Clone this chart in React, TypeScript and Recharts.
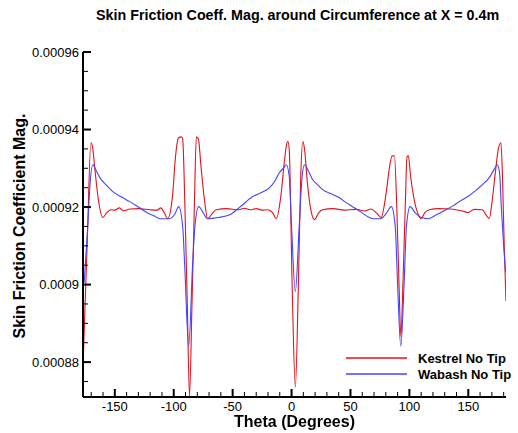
import { LineChart, Line, XAxis, YAxis } from "recharts";

// Kestrel No Tip (red)
const kestrelTheta = [
  -176.9, -173.5, -170.3, -168.9, -167, -164, -160.2, -157, -153, -150, -146, -143, -137, -130, -120,
  -114, -111, -108, -105.1, -101, -98.5, -96, -93.5, -92.4, -90.5, -88.5, -86.6, -84.5, -82.5, -80.8,
  -79, -77, -74, -71.2, -67, -63.8, -55, -45, -40, -35, -30, -25, -20.3, -16, -13, -9, -6, -4, -3.1,
  -2, 0.5, 3.2, 5.8, 7.8, 9.6, 11, 13.5, 16.5, 19.5, 23, 26.3, 35, 45, 55, 62, 67.5, 72, 76, 80, 83,
  85.3, 87.3, 89.3, 91.2, 92.8, 94.5, 96.5, 98, 99.2, 101, 104, 107, 109.9, 113, 117, 125, 135, 145,
  150, 155, 161.9, 165, 167.8, 170, 173, 175.5, 177.7, 179, 180.5, 182,
];
const kestrelValue = [
  88.0e-5, 91.0e-5, 93.66e-5, 93.55e-5, 93.0e-5, 92.2e-5, 91.73e-5, 91.85e-5, 91.93e-5, 91.92e-5, 91.98e-5,
  91.9e-5, 91.95e-5, 91.96e-5, 91.93e-5, 91.92e-5, 91.98e-5, 91.85e-5, 91.7e-5, 92.3e-5, 93.3e-5,
  93.78e-5, 93.81e-5, 93.75e-5, 92.0e-5, 89.5e-5, 87.12e-5, 89.5e-5, 92.0e-5, 93.81e-5, 93.75e-5,
  93.1e-5, 92.2e-5, 91.7e-5, 91.85e-5, 91.93e-5, 91.96e-5, 91.93e-5, 91.97e-5, 91.93e-5, 91.96e-5,
  91.92e-5, 91.93e-5, 91.85e-5, 91.7e-5, 92.3e-5, 93.2e-5, 93.65e-5, 93.69e-5, 93.5e-5, 90.0e-5,
  87.35e-5, 90.0e-5, 92.8e-5, 93.69e-5, 93.5e-5, 92.6e-5, 91.9e-5, 91.68e-5, 91.85e-5, 91.93e-5,
  91.96e-5, 91.92e-5, 91.94e-5, 91.9e-5, 91.95e-5, 91.85e-5, 91.73e-5, 92.3e-5, 93.0e-5, 93.32e-5,
  93.32e-5, 92.0e-5, 90.0e-5, 88.66e-5, 90.0e-5, 92.0e-5, 93.3e-5, 93.32e-5, 92.8e-5, 92.2e-5,
  91.85e-5, 91.7e-5, 91.85e-5, 91.93e-5, 91.96e-5, 91.95e-5, 91.9e-5, 91.86e-5, 91.94e-5, 91.93e-5,
  91.8e-5, 91.7e-5, 92.1e-5, 92.9e-5, 93.5e-5, 93.66e-5, 92.8e-5, 91.0e-5, 89.57e-5,
];

// Wabash No Tip (blue)
const wabashTheta = [
  -176, -173, -171, -168.6, -166, -162.7, -157, -151.7, -145, -137.3, -130, -122.9, -116, -111.9, -103.4,
  -99, -95.8, -92.4, -90.7, -87.3, -84, -82, -78.8, -75, -71.2, -62, -52.5, -43, -33, -25, -18.6, -14,
  -10.2, -7, -4.5, -2, 0, 3.2, 6.5, 9, 11, 14, 17.8, 22, 26.3, 33, 40.7, 46, 51.7, 59, 66.1, 69.5, 75.4,
  80, 84.7, 88, 90, 92.7, 95.5, 97.5, 100.6, 105, 110.2, 116.1, 123, 131.1, 137, 142.4, 150, 156.5,
  162, 167.8, 171, 174.6, 176.5, 178, 180, 181.7,
];
const wabashValue = [
  90.05e-5, 91.5e-5, 92.6e-5, 93.09e-5, 92.95e-5, 92.76e-5, 92.56e-5, 92.4e-5, 92.27e-5, 92.14e-5,
  92.0e-5, 91.86e-5, 91.76e-5, 91.7e-5, 91.7e-5, 91.82e-5, 92.01e-5, 91.5e-5, 90.5e-5, 88.41e-5,
  90.5e-5, 91.5e-5, 92.01e-5, 91.85e-5, 91.7e-5, 91.73e-5, 91.8e-5, 92.02e-5, 92.27e-5, 92.38e-5,
  92.5e-5, 92.68e-5, 92.89e-5, 93.0e-5, 93.09e-5, 92.8e-5, 91.5e-5, 89.82e-5, 91.5e-5, 92.8e-5,
  93.09e-5, 92.95e-5, 92.71e-5, 92.58e-5, 92.45e-5, 92.35e-5, 92.24e-5, 92.12e-5, 92.01e-5, 91.87e-5,
  91.73e-5, 91.7e-5, 91.7e-5, 91.82e-5, 92.01e-5, 91.5e-5, 90.0e-5, 88.41e-5, 90.0e-5, 91.5e-5,
  92.01e-5, 91.85e-5, 91.73e-5, 91.7e-5, 91.8e-5, 91.93e-5, 92.03e-5, 92.14e-5, 92.28e-5, 92.43e-5,
  92.58e-5, 92.76e-5, 92.92e-5, 93.09e-5, 92.9e-5, 92.0e-5, 91.0e-5, 90.31e-5,
];

const kestrelData = kestrelTheta.map((theta, i) => ({ theta, value: kestrelValue[i] }));
const wabashData = wabashTheta.map((theta, i) => ({ theta, value: wabashValue[i] }));

const xMajor = [-150, -100, -50, 0, 50, 100, 150];
const xTicks = [
  -170, -160, -150, -140, -130, -120, -110, -100, -90, -80, -70, -60, -50, -40, -30, -20, -10, 0, 10, 20,
  30, 40, 50, 60, 70, 80, 90, 100, 110, 120, 130, 140, 150, 160, 170, 180,
];
const yMajor = [0.00088, 0.0009, 0.00092, 0.00094, 0.00096];
const yMajorLabels = ["0.00088", "0.0009", "0.00092", "0.00094", "0.00096"];
const yTicks = [
  0.000875, 0.00088, 0.000885, 0.00089, 0.000895, 0.0009, 0.000905, 0.00091, 0.000915, 0.00092,
  0.000925, 0.00093, 0.000935, 0.00094, 0.000945, 0.00095, 0.000955, 0.00096,
];

const RED = "#e3121c";
const BLUE = "#4444ff";
const FONT = "'Liberation Sans', Arial, Helvetica, sans-serif";

function YTick(props: any) {
  const { x, y, payload } = props;
  const idx = yMajor.findIndex((m) => Math.abs(m - payload.value) < 1e-10);
  const major = idx >= 0;
  return (
    <g>
      <line x1={x} x2={x + (major ? 8 : 5)} y1={y} y2={y} stroke="#000" strokeWidth={major ? 2 : 1} />
      {major && (
        <text x={x - 4} y={y} dy={4.5} textAnchor="end" fontSize={13} fill="#000" fontFamily={FONT}>
          {yMajorLabels[idx]}
        </text>
      )}
    </g>
  );
}

function XTick(props: any) {
  const { x, y, payload } = props;
  const major = xMajor.includes(payload.value);
  return (
    <g>
      <line x1={x} x2={x} y1={y} y2={y - (major ? 8 : 5)} stroke="#000" strokeWidth={major ? 2 : 1} />
      {major && (
        <text x={x} y={y + 13.5} textAnchor="middle" fontSize={13} fill="#000" fontFamily={FONT}>
          {payload.value}
        </text>
      )}
    </g>
  );
}

const legendItems = [
  { name: "Kestrel No Tip", color: RED },
  { name: "Wabash No Tip", color: BLUE },
];

export default function App() {
  return (
    <div style={{ position: "fixed", left: 0, top: 0, width: 518, height: 433, background: "#fff", fontFamily: FONT }}>
      <div style={{ position: "absolute", left: 96, top: 7, fontSize: 14.3, fontWeight: "bold", whiteSpace: "nowrap" }}>
        Skin Friction Coeff. Mag. around Circumference at X = 0.4m
      </div>
      <LineChart width={518} height={433} margin={{ top: 52, right: 12, bottom: 0, left: 0 }}>
        <XAxis
          type="number"
          dataKey="theta"
          domain={[-177, 182]}
          allowDataOverflow
          ticks={xTicks}
          interval={0}
          tickSize={0}
          tickMargin={0}
          tickLine={false}
          tick={<XTick />}
          height={36}
          axisLine={{ stroke: "#000", strokeWidth: 2 }}
        />
        <YAxis
          type="number"
          dataKey="value"
          domain={[0.000871, 0.00096]}
          allowDataOverflow
          ticks={yTicks}
          interval={0}
          tickSize={0}
          tickMargin={0}
          tickLine={false}
          tick={<YTick />}
          width={83}
          axisLine={{ stroke: "#000", strokeWidth: 2 }}
        />
        <Line
          data={kestrelData}
          dataKey="value"
          name="Kestrel No Tip"
          type="monotone"
          stroke={RED}
          strokeWidth={1.1}
          dot={false}
          isAnimationActive={false}
        />
        <Line
          data={wabashData}
          dataKey="value"
          name="Wabash No Tip"
          type="monotone"
          stroke={BLUE}
          strokeWidth={1.1}
          dot={false}
          isAnimationActive={false}
        />
      </LineChart>
      <div style={{ position: "absolute", left: 346, top: 350 }}>
        {legendItems.map((it) => (
          <div key={it.name} style={{ display: "flex", alignItems: "center", height: 16 }}>
            <svg width={72} height={16}>
              <line x1={0} x2={61} y1={8} y2={8} stroke={it.color} strokeWidth={1.3} />
            </svg>
            <span style={{ fontSize: 13, fontWeight: "bold", color: "#000" }}>{it.name}</span>
          </div>
        ))}
      </div>
      <div
        style={{
          position: "absolute",
          left: 0,
          width: 589,
          top: 414,
          lineHeight: "16px",
          textAlign: "center",
          fontSize: 16,
          fontWeight: "bold",
          whiteSpace: "nowrap",
        }}
      >
        Theta (Degrees)
      </div>
      <div
        style={{
          position: "absolute",
          left: 20,
          top: 226,
          transform: "translate(-50%, -50%) rotate(-90deg)",
          fontSize: 16,
          fontWeight: "bold",
          whiteSpace: "nowrap",
        }}
      >
        Skin Friction Coefficient Mag.
      </div>
    </div>
  );
}
